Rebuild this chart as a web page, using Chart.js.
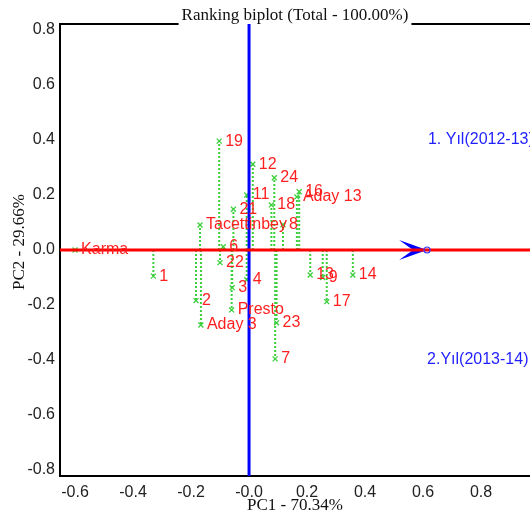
<!DOCTYPE html>
<html>
<head>
<meta charset="utf-8">
<script src="https://cdn.jsdelivr.net/npm/chart.js@4/dist/chart.umd.min.js"></script>
<style>
    html, body { margin: 0; padding: 0; background: #fff; }
</style>
</head>
<body>
<canvas id="biplot" width="530" height="516"></canvas>
<script>
// Genotype scores on PC1 / PC2
const genotypes = ['Karma', '1', '2', 'Aday 3', '22', '6', 'Tacettinbey', '3', 'Presto', '4',
    '19', '21', '11', '12', '24', '18', '8', '16', 'Aday 13', '23', '7', '13', '9', '17', '14'];
const pc1 = [-0.600, -0.330, -0.183, -0.166, -0.100, -0.089, -0.169, -0.058, -0.060, -0.008,
    -0.103, -0.054, -0.008, 0.013, 0.087, 0.077, 0.117, 0.173, 0.165, 0.095, 0.090, 0.211, 0.254, 0.268, 0.358];
const pc2 = [0.000, -0.095, -0.184, -0.273, -0.046, 0.012, 0.091, -0.137, -0.218, -0.108,
    0.396, 0.148, 0.200, 0.312, 0.263, 0.164, 0.092, 0.212, 0.193, -0.265, -0.396, -0.091, -0.100, -0.188, -0.091];

// Environments
const environments = ['1. Yıl(2012-13)', '2.Yıl(2013-14)'];
const envPc1 = [0.617, 0.614];
const envPc2 = [0.400, -0.400];

// Average environment (arrow tip on the AEC abscissa)
const meanEnvPc1 = 0.614;

const xTicks = [-0.6, -0.4, -0.2, 0, 0.2, 0.4, 0.6, 0.8];
const xTickLabels = ['-0.6', '-0.4', '-0.2', '-0.0', '0.2', '0.4', '0.6', '0.8'];
const yTicks = [-0.8, -0.6, -0.4, -0.2, 0, 0.2, 0.4, 0.6, 0.8];
const yTickLabels = ['-0.8', '-0.6', '-0.4', '-0.2', '0.0', '0.2', '0.4', '0.6', '0.8'];

const GREEN = '#3ccf3c';
const RED = '#ff1f1f';
const BLUE = '#1f1fff';
const SANS = '"Liberation Sans", Arial, sans-serif';
const SERIF = '"Liberation Serif", "Times New Roman", serif';

const datasets = [];

// AEC abscissa (red) and ordinate (blue)
datasets.push({
    data: [{ x: -1, y: 0 }, { x: 1.2, y: 0 }],
    showLine: true, borderColor: '#ff0000', borderWidth: 3, pointRadius: 0, order: 0
});
datasets.push({
    data: [{ x: 0, y: -1 }, { x: 0, y: 1 }],
    showLine: true, borderColor: '#0000ff', borderWidth: 3, pointRadius: 0, order: 1
});

// genotype markers
datasets.push({
    data: genotypes.map((g, i) => ({ x: pc1[i], y: pc2[i] })),
    pointStyle: 'crossRot', pointRadius: 3.5, borderColor: GREEN, borderWidth: 1.3,
    backgroundColor: GREEN, order: 2
});

// dotted projections onto the abscissa
genotypes.forEach((g, i) => {
    datasets.push({
        data: [{ x: pc1[i], y: 0 }, { x: pc1[i], y: pc2[i] }],
        showLine: true, borderColor: GREEN, borderWidth: 2, borderDash: [2, 2],
        pointRadius: 0, order: 3
    });
});

const arrowPlugin = {
    id: 'arrowHead',
    beforeDatasetsDraw(chart) {
        const { ctx, scales: { x, y } } = chart;
        const tx = x.getPixelForValue(meanEnvPc1);
        const ty = y.getPixelForValue(0);
        ctx.save();
        ctx.fillStyle = '#0000ff';
        ctx.beginPath();
        ctx.moveTo(tx, ty);
        ctx.lineTo(tx - 28, ty - 10);
        ctx.lineTo(tx - 14, ty);
        ctx.lineTo(tx - 28, ty + 10);
        ctx.closePath();
        ctx.fill();
        ctx.restore();
    },
    afterDatasetsDraw(chart) {
        const { ctx, scales: { x, y } } = chart;
        ctx.save();
        // small circle at the average environment
        ctx.strokeStyle = '#3333ff';
        ctx.lineWidth = 1.2;
        ctx.beginPath();
        ctx.arc(x.getPixelForValue(meanEnvPc1), y.getPixelForValue(0), 3, 0, Math.PI * 2);
        ctx.stroke();

        ctx.font = '16px ' + SANS;
        ctx.textBaseline = 'middle';
        ctx.textAlign = 'left';
        ctx.fillStyle = RED;
        genotypes.forEach((g, i) => {
            ctx.fillText(g, x.getPixelForValue(pc1[i]) + 6, y.getPixelForValue(pc2[i]));
        });
        ctx.fillStyle = BLUE;
        environments.forEach((e, i) => {
            ctx.fillText(e, x.getPixelForValue(envPc1[i]), y.getPixelForValue(envPc2[i]));
        });
        ctx.restore();
    }
};

const framePlugin = {
    id: 'frameTitles',
    afterDraw(chart) {
        const { ctx, chartArea: a } = chart;
        const title = 'Ranking biplot (Total - 100.00%)';
        ctx.save();
        ctx.font = '17px ' + SERIF;
        ctx.fillStyle = '#111';
        const cx = (a.left + a.right) / 2;
        const tw = ctx.measureText(title).width;

        // top frame line, broken under the title
        ctx.strokeStyle = '#000';
        ctx.lineWidth = 2;
        ctx.beginPath();
        ctx.moveTo(a.left - 1, a.top);
        ctx.lineTo(cx - tw / 2 - 3, a.top);
        ctx.moveTo(cx + tw / 2 + 3, a.top);
        ctx.lineTo(a.right, a.top);
        ctx.stroke();

        ctx.textAlign = 'center';
        ctx.textBaseline = 'alphabetic';
        ctx.fillText(title, cx, a.top - 4);

        ctx.textBaseline = 'middle';
        ctx.fillText('PC1 - 70.34%', cx, 506);
        ctx.translate(20, 242);
        ctx.rotate(-Math.PI / 2);
        ctx.fillText('PC2 - 29.66%', 0, 0);
        ctx.restore();
    }
};

new Chart(document.getElementById('biplot'), {
    type: 'scatter',
    data: { datasets },
    options: {
        responsive: false,
        animation: false,
        events: [],
        layout: { autoPadding: false, padding: { top: 24, right: 0, bottom: 0, left: 0 } },
        plugins: { legend: { display: false }, tooltip: { enabled: false } },
        scales: {
            x: {
                type: 'linear', min: -0.652, max: 0.969,
                grid: { display: false, drawTicks: false },
                border: { display: true, color: '#000', width: 2 },
                afterBuildTicks: s => { s.ticks = xTicks.map(v => ({ value: v })); },
                afterFit: s => { s.height = 40; },
                ticks: {
                    padding: 7, color: '#222', font: { family: SANS, size: 16 },
                    callback: v => xTickLabels[xTicks.findIndex(t => Math.abs(t - v) < 1e-9)]
                }
            },
            y: {
                type: 'linear', min: -0.822, max: 0.822,
                grid: { display: false, drawTicks: false },
                border: { display: true, color: '#000', width: 2 },
                afterBuildTicks: s => { s.ticks = yTicks.map(v => ({ value: v })); },
                afterFit: s => { s.width = 60; },
                ticks: {
                    padding: 5, color: '#222', font: { family: SANS, size: 16 },
                    callback: v => yTickLabels[yTicks.findIndex(t => Math.abs(t - v) < 1e-9)]
                }
            }
        }
    },
    plugins: [arrowPlugin, framePlugin]
});
</script>
</body>
</html>
